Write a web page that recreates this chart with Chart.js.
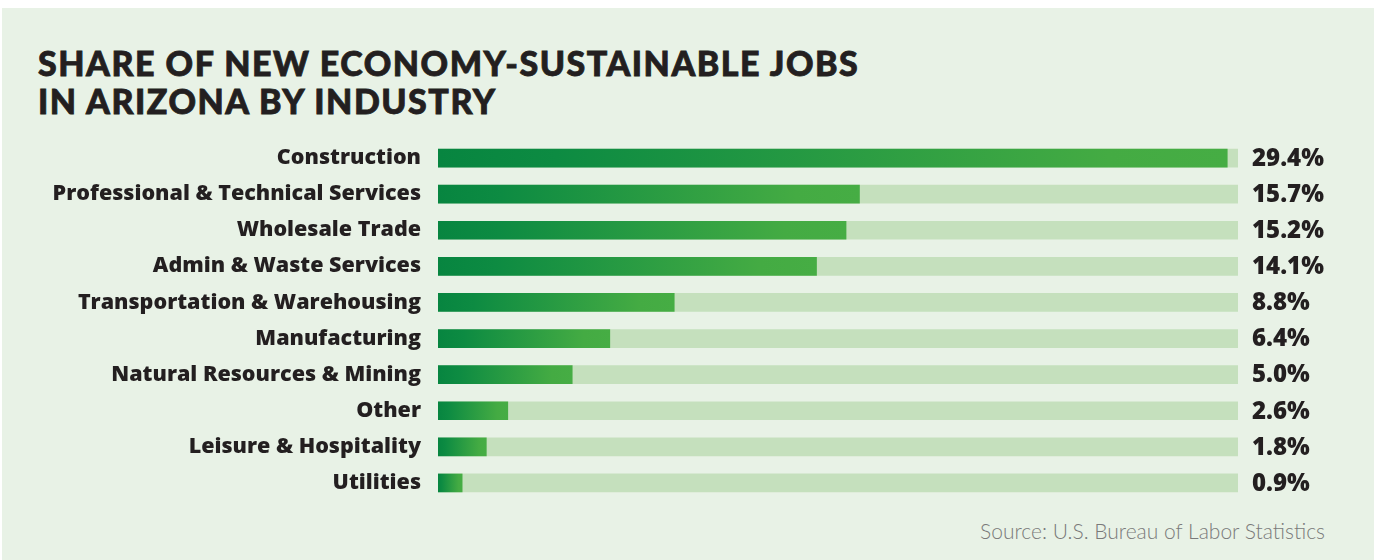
<!DOCTYPE html>
<html>
<head>
<meta charset="utf-8">
<script src="https://cdn.jsdelivr.net/npm/chart.js@4"></script>
<style>
  body { margin: 0; background: #ffffff; width: 1377px; height: 560px; overflow: hidden; position: relative; }
  #panel { position: absolute; left: 2px; top: 8px; width: 1372px; height: 552px; background: #e8f2e6; }
  #title { position: absolute; left: 38px; top: 44px; font-family: Lato, sans-serif; font-weight: 900; font-size: 34px; line-height: 38px; letter-spacing: 1.5px; color: #231f20; -webkit-text-stroke: 0.8px #231f20; }
  #source { position: absolute; right: 52px; top: 518px; font-family: Lato, sans-serif; font-weight: 300; font-size: 21px; color: #7a7a7a; }
  #wrap { position: absolute; left: 0; top: 140px; width: 1377px; height: 361px; }
</style>
</head>
<body>
<div id="panel"></div>
<div id="title">SHARE OF NEW ECONOMY-SUSTAINABLE JOBS<br>IN ARIZONA BY INDUSTRY</div>
<div id="source">Source: U.S. Bureau of Labor Statistics</div>
<div id="wrap"><canvas id="chart"></canvas></div>
<script>
const industries = ['Construction', 'Professional & Technical Services', 'Wholesale Trade', 'Admin & Waste Services',
  'Transportation & Warehousing', 'Manufacturing', 'Natural Resources & Mining', 'Other', 'Leisure & Hospitality', 'Utilities'];
const shares = [29.4, 15.7, 15.2, 14.1, 8.8, 6.4, 5.0, 2.6, 1.8, 0.9];
const axisMax = 29.8;

// gradient runs along each bar, dark at the base, light at the tip
function barGradient(ctx) {
  const chart = ctx.chart;
  const x = chart.scales.x;
  if (!chart.chartArea || !x || ctx.raw == null) return '#0b8a40';
  const x0 = x.getPixelForValue(0);
  const x1 = x.getPixelForValue(ctx.raw);
  const g = chart.ctx.createLinearGradient(x0, 0, Math.max(x1, x0 + 1), 0);
  g.addColorStop(0, '#078540');
  g.addColorStop(0.15, '#0d8b42');
  g.addColorStop(0.85, '#44ab43');
  g.addColorStop(1, '#46ad44');
  return g;
}

const valueLabels = {
  id: 'valueLabels',
  afterDatasetsDraw(chart) {
    const c = chart.ctx;
    const y = chart.scales.y;
    c.save();
    c.font = '800 24px "Open Sans", sans-serif';
    c.fillStyle = '#231f20';
    c.textAlign = 'left';
    c.textBaseline = 'middle';
    shares.forEach((v, i) => {
      c.fillText(v.toFixed(1) + '%', chart.chartArea.right + 14, y.getPixelForValue(i) + 1);
    });
    c.restore();
  }
};

new Chart(document.getElementById('chart'), {
  type: 'bar',
  data: {
    labels: industries,
    datasets: [
      {
        data: shares,
        backgroundColor: barGradient,
        barThickness: 18,
        grouped: false
      },
      {
        data: industries.map(() => axisMax),
        backgroundColor: '#c5e0bd',
        barThickness: 18,
        grouped: false
      }
    ]
  },
  options: {
    indexAxis: 'y',
    responsive: true,
    maintainAspectRatio: false,
    animation: false,
    layout: { padding: { left: 0, right: 139, top: 0, bottom: 0 } },
    plugins: { legend: { display: false }, tooltip: { enabled: false } },
    scales: {
      x: { display: false, min: 0, max: axisMax },
      y: {
        grid: { display: false },
        border: { display: false },
        afterFit(scale) {
          scale.width = 438;
          scale.paddingTop = 0;
          scale.paddingBottom = 0;
        },
        ticks: {
          padding: 9,
          color: '#231f20',
          font: { family: '"Open Sans", sans-serif', weight: '800', size: 21.5 }
        }
      }
    }
  },
  plugins: [valueLabels]
});
</script>
</body>
</html>
